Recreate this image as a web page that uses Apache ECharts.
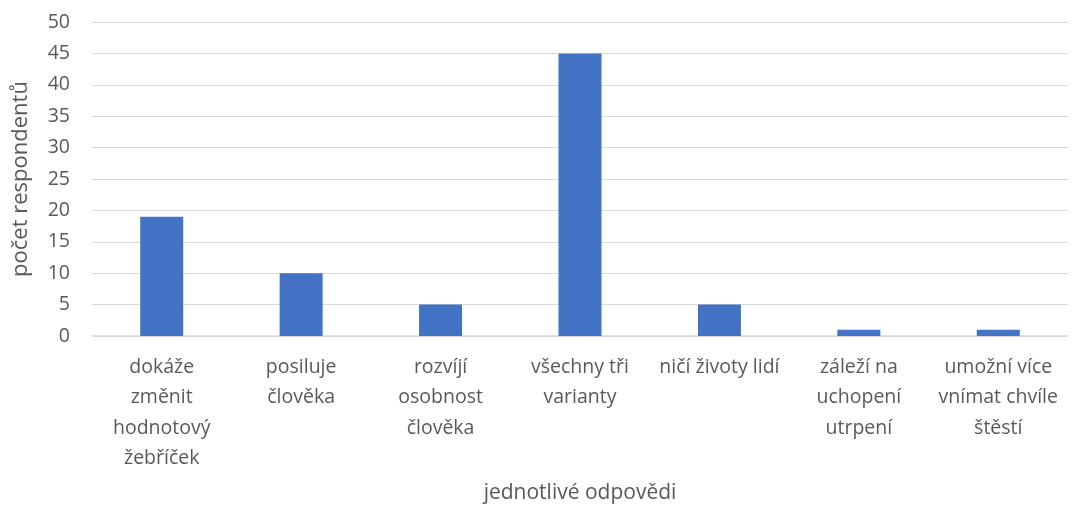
<!DOCTYPE html>
<html>
<head>
<meta charset="utf-8">
<script src="https://cdn.jsdelivr.net/npm/echarts@6/dist/echarts.min.js"></script>
<style>
  html, body { margin: 0; padding: 0; background: #fff; }
  #chart { width: 1073px; height: 506px; }
</style>
</head>
<body>
<div id="chart"></div>
<script>
  var categories = [
    'dokáže\nzměnit\nhodnotový\nžebříček',
    'posiluje\nčlověka',
    'rozvíjí\nosobnost\nčlověka',
    'všechny tři\nvarianty',
    'ničí životy lidí',
    'záleží na\nuchopení\nutrpení',
    'umožní více\nvnímat chvíle\nštěstí'
  ];
  var values = [19, 10, 5, 45, 5, 1, 1];
  var yTicks = { min: 0, max: 50, interval: 5 };

  var textColor = '#595959';
  var font = '"Open Sans", "Noto Sans", sans-serif';

  var chart = echarts.init(document.getElementById('chart'));
  chart.setOption({
    animation: false,
    grid: { left: 92, right: 5, top: 22, bottom: 170, outerBoundsMode: 'none' },
    xAxis: {
      type: 'category',
      data: categories,
      name: 'jednotlivé odpovědi',
      nameLocation: 'middle',
      nameGap: 147,
      nameTextStyle: { color: textColor, fontSize: 21, fontFamily: font },
      axisLine: { lineStyle: { color: '#d9d9d9', width: 1.5 } },
      axisTick: { show: false },
      axisLabel: {
        interval: 0,
        color: textColor,
        fontSize: 19.5,
        fontFamily: font,
        lineHeight: 30.5,
        margin: 16
      }
    },
    yAxis: {
      type: 'value',
      min: yTicks.min,
      max: yTicks.max,
      interval: yTicks.interval,
      name: 'počet respondentů',
      nameLocation: 'middle',
      nameGap: 60,
      nameTextStyle: { color: textColor, fontSize: 22, fontFamily: font },
      axisLine: { show: false },
      axisTick: { show: false },
      axisLabel: { color: textColor, fontSize: 19.5, fontFamily: font, margin: 22 },
      splitLine: { lineStyle: { color: '#d9d9d9', width: 1 } }
    },
    series: [{
      type: 'bar',
      data: values,
      barWidth: 43,
      itemStyle: { color: '#4472c4' }
    }]
  });
</script>
</body>
</html>
